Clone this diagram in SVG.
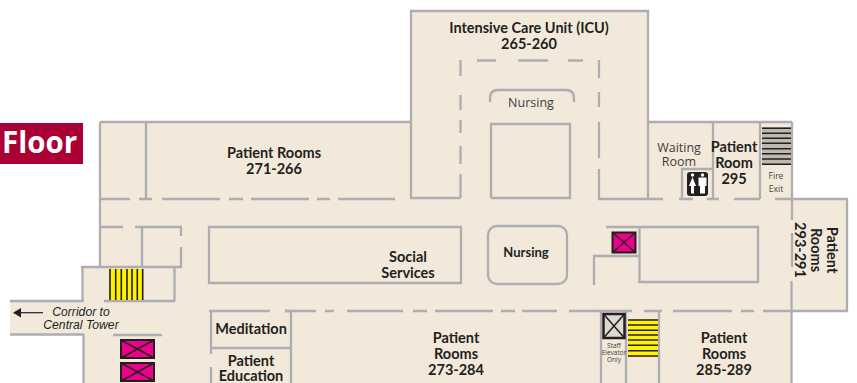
<svg xmlns="http://www.w3.org/2000/svg" width="857" height="383" viewBox="0 0 857 383">
<style>
.w{fill:none;stroke:#adadb2;stroke-width:2.3}
.t{font-family:"Open Sans","Noto Sans","Liberation Sans",sans-serif;fill:#231f20;text-anchor:middle}
.b{font-family:Lato,"Open Sans",sans-serif;font-weight:700;font-size:14.500px}
.r{font-weight:400;fill:#3f3d3e}
.i{font-family:"Liberation Sans",Arial,sans-serif;font-style:italic;font-size:12.200px;fill:#231f20;text-anchor:middle}
.e{fill:#ec008c;stroke:#231f20;stroke-width:2}
.x{fill:none;stroke:#231f20;stroke-width:1.500}
.s{stroke:#231f20;stroke-width:1.600}
</style>
<rect x="0" y="123" width="83" height="41" fill="#ab0033"/>
<text x="2" y="153" font-family="'Open Sans','Noto Sans',sans-serif" font-weight="700" font-size="29.500px" fill="#fff">Floor</text>
<path d="M100 122H411V11H648V122H792V198H847V311H791V383H83V334.500H10V300.500H83V267H100Z" fill="#f2e9da"/>
<g id="walls">
<path class="w" d="M100 122H411M146 122V199M100 122V267M100 199H130M139 199H152M162 199H220M229 199H243M251 199H309M317 199H330M338 199H395"/>
<path class="w" d="M411 199V11H648V199M411 198H460.500M460.500 60V76M460.500 95V110M460.500 120V133M460.500 146V164M460.500 174V198M599 60V78M599 92V107M599 122V158M599 169V199M477 60.500H496M518 60.500H548M568 60.500H583"/>
<path class="w" d="M490 102V98Q490 90 498 90H566Q574 90 574 98V102M491 198V124H570V198H491"/>
<path class="w" d="M598 199H663M679 199H693M707 199H719M734 199H760M775 199H847M648 122H792M713 122V199M760 122V199M792 122V220M792 233V267M791.500 281V383M847 198V311M682 199V169H713"/>
<path class="w" d="M606 227H758V282H639.500V227M594 285V256H639"/>
<path class="w" d="M461 227H209V283H461ZM285 311H316M325 311H334M347 311H403M413 311H427M435 311H493M501 311H515M522 311H557M569 311H632M644 311H662M673 311H732M741 311H754M763 311H848"/>
<rect class="w" x="488" y="226" width="79" height="58" rx="9"/>
<path class="w" d="M209 311H270M285 311H292M291 311V383M211 311V354M211 348H291M211 367V383"/>
<path class="w" d="M100 227H123M135 227H182M142 227V267M181 227V236M181 247V268M81 267H182M82.500 267V301M174.500 267V301M10 301H84M104 301H175M10 334.500H84M83.500 334V383M113 335H162"/>
<path class="w" d="M601 311V383M626 311V383M659 311V383"/>
</g>
<g id="stairs">
<rect x="109" y="269" width="34" height="31" fill="#fff200"/>
<path class="s" d="M110 269V300M115.700 269V300M121.300 269V300M127 269V300M132 269V300M137.300 269V300M142.700 269V300"/>
<rect x="628" y="319" width="30" height="38" fill="#fff200"/>
<path class="s" d="M628 320H658M628 325H658M628 330.300H658M628 335H658M628 340H658M628 345.300H658M628 350.700H658M628 356H658"/>
<rect x="762" y="127" width="29" height="38" fill="#bdb9ae"/>
<path class="s" d="M762 128.300H791M762 133.300H791M762 138.300H791M762 143.300H791M762 148.700H791M762 153.700H791M762 159H791M762 164.300H791"/>
</g>
<g id="elevators">
<rect class="e" x="121" y="340" width="33" height="18"/><path class="x" d="M121 340L154 358M154 340L121 358"/>
<rect class="e" x="121" y="363" width="33" height="18"/><path class="x" d="M121 363L154 381M154 363L121 381"/>
<rect class="e" x="612.500" y="232.500" width="23" height="20"/><path class="x" d="M612.500 232.500L635.500 252.500M635.500 232.500L612.500 252.500"/>
<rect x="603.500" y="314" width="21" height="24" fill="#dedad0" stroke="#231f20" stroke-width="2.500"/><path class="x" d="M603.500 314L624.500 338M624.500 314L603.500 338"/>
</g>
<g id="restroom">
<rect x="687" y="172" width="21" height="24" rx="3" fill="#231f20"/>
<circle cx="692.500" cy="175" r="1.700" fill="#fff"/><path d="M692.500 177L696 186H694V193.500H691V186H689Z" fill="#fff"/>
<circle cx="702.500" cy="175" r="1.700" fill="#fff"/><path d="M698.500 177.500H706.500V186H705V193.500H700V186H698.500Z" fill="#fff"/>
</g>
<g id="corridor-arrow">
<path d="M14 312.700H43" stroke="#231f20" stroke-width="1.200"/><path d="M13 312.700L21 308V317.500Z" fill="#231f20"/>
<text class="i" x="81" y="316">Corridor to</text>
<text class="i" x="81" y="329">Central Tower</text>
</g>
<g id="labels">
<text class="t b" x="274" y="158">Patient Rooms</text><text class="t b" x="274" y="174">271-266</text>
<text class="t b" x="529" y="33">Intensive Care Unit (ICU)</text><text class="t b" x="529" y="49">265-260</text>
<text class="t r" font-size="12.500" x="531" y="107">Nursing</text>
<text class="t r" font-size="12.500" x="679" y="152">Waiting</text><text class="t r" font-size="12.500" x="679" y="166">Room</text>
<text class="t b" x="734" y="152">Patient</text><text class="t b" x="734" y="168">Room</text><text class="t b" x="734" y="184">295</text>
<text class="t r" font-size="8.500" x="776" y="179">Fire</text><text class="t r" font-size="8.500" x="776" y="192">Exit</text>
<g transform="translate(827 250) rotate(90)"><text class="t b">Patient</text></g>
<g transform="translate(811 250) rotate(90)"><text class="t b">Rooms</text></g>
<g transform="translate(795 250) rotate(90)"><text class="t b">293-291</text></g>
<text class="t b" style="font-size:13px" x="526" y="257">Nursing</text>
<text class="t b" x="408" y="262">Social</text><text class="t b" x="408" y="278">Services</text>
<text class="t b" x="456" y="343">Patient</text><text class="t b" x="456" y="359">Rooms</text><text class="t b" x="456" y="375">273-284</text>
<text class="t b" x="724" y="343">Patient</text><text class="t b" x="724" y="359">Rooms</text><text class="t b" x="724" y="375">285-289</text>
<text class="t b" x="251" y="334">Meditation</text>
<text class="t b" x="251" y="366">Patient</text><text class="t b" x="251" y="381">Education</text>
<text class="t r" font-size="6.500" x="614" y="348">Staff</text><text class="t r" font-size="6.500" x="614" y="355">Elevator</text><text class="t r" font-size="6.500" x="614" y="362">Only</text>
</g>
</svg>
